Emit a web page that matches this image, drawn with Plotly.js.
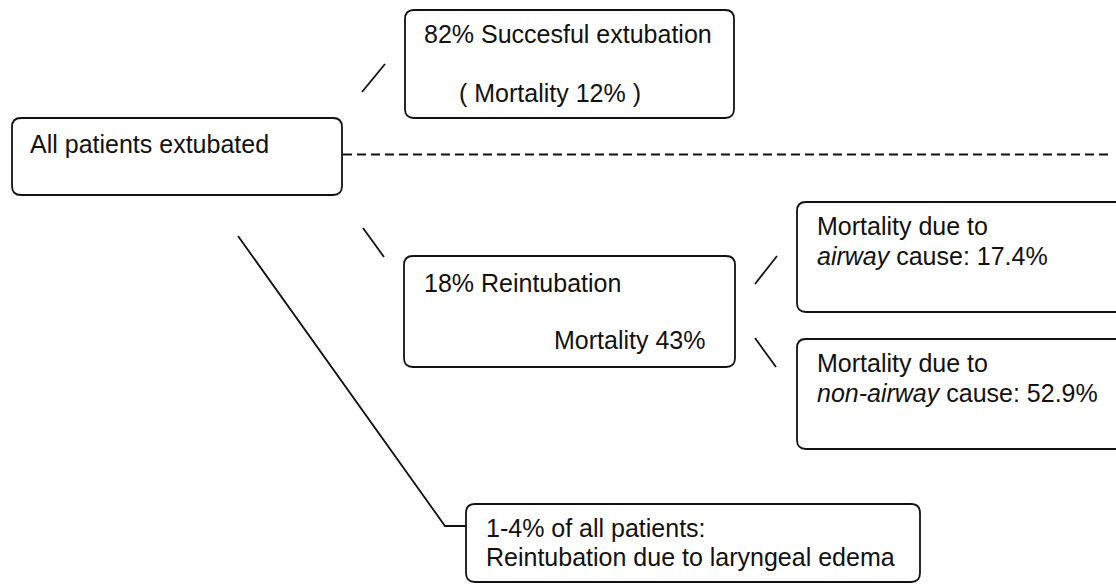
<!DOCTYPE html>
<html>
<head>
<meta charset="utf-8">
<script src="https://cdn.plot.ly/plotly-3.0.1.min.js"></script>
<style>html,body{margin:0;padding:0;background:#fff;}#chart{width:1116px;height:584px;}</style>
</head>
<body>
<div id="chart"></div>
<script>
// Flowchart nodes (boxes)
const nodeNames = ['All patients', 'Successful extubation', 'Reintubation', 'Airway cause', 'Non-airway cause', 'Laryngeal edema'];
const nodeX0 = [12, 405, 404, 797, 797, 466];
const nodeX1 = [342, 734, 735, 1140, 1140, 920];
const nodeY0 = [118, 10, 256, 202, 339, 504];
const nodeY1 = [195, 118, 367, 312, 449, 582];

// Text lines
const lineTexts = [
  'All patients extubated',
  '82% Succesful extubation',
  '( Mortality 12% )',
  '18% Reintubation',
  'Mortality 43%',
  'Mortality due to',
  '<i>airway</i> cause: 17.4%',
  'Mortality due to',
  '<i>non-airway</i> cause: 52.9%',
  '1-4% of all patients:',
  'Reintubation due to laryngeal edema'
];
const lineX = [29, 423, 458, 423, 553, 816, 816, 816, 816, 485, 485];
const lineBaseline = [153, 43, 102, 292, 349, 235, 265, 372, 402, 537, 566];

// Connector segments (solid)
const connX = [[362, 385], [363, 384], [755, 777], [755, 776], [238, 445, 466]];
const connY = [[92, 64], [228, 257], [284, 256], [338, 367], [236, 526, 526]];
// Dashed divider
const dashX = [343, 1108];
const dashY = [154.5, 154.5];

const R = 9;
function roundedRect(x0, y0, x1, y1, r) {
  return 'M' + (x0 + r) + ',' + y0 +
    ' L' + (x1 - r) + ',' + y0 +
    ' Q' + x1 + ',' + y0 + ' ' + x1 + ',' + (y0 + r) +
    ' L' + x1 + ',' + (y1 - r) +
    ' Q' + x1 + ',' + y1 + ' ' + (x1 - r) + ',' + y1 +
    ' L' + (x0 + r) + ',' + y1 +
    ' Q' + x0 + ',' + y1 + ' ' + x0 + ',' + (y1 - r) +
    ' L' + x0 + ',' + (y0 + r) +
    ' Q' + x0 + ',' + y0 + ' ' + (x0 + r) + ',' + y0 + ' Z';
}

const shapes = nodeNames.map((n, i) => ({
  type: 'path', xref: 'x', yref: 'y',
  path: roundedRect(nodeX0[i], nodeY0[i], nodeX1[i], nodeY1[i], R),
  line: {color: '#111', width: 1.8},
  fillcolor: 'rgba(0,0,0,0)'
}));

const FS = 25;
const annotations = lineTexts.map((t, i) => ({
  x: lineX[i], y: lineBaseline[i] - 0.35 * FS,
  xref: 'x', yref: 'y',
  text: t, showarrow: false,
  xanchor: 'left', yanchor: 'middle',
  align: 'left', borderpad: 0,
  font: {family: '"Liberation Sans", Arial, sans-serif', size: FS, color: '#111'}
}));

const sx = [], sy = [];
connX.forEach((seg, i) => {
  seg.forEach((v, j) => { sx.push(v); sy.push(connY[i][j]); });
  sx.push(null); sy.push(null);
});

const traces = [
  {x: sx, y: sy, mode: 'lines', type: 'scatter', line: {color: '#111', width: 1.8}, hoverinfo: 'skip', connectgaps: false},
  {x: dashX, y: dashY, mode: 'lines', type: 'scatter', line: {color: '#111', width: 2, dash: '9px,5px'}, hoverinfo: 'skip'}
];

const layout = {
  width: 1116, height: 584,
  margin: {l: 0, r: 0, t: 0, b: 0, pad: 0},
  paper_bgcolor: '#fff', plot_bgcolor: '#fff',
  showlegend: false,
  xaxis: {range: [0, 1116], visible: false, fixedrange: true},
  yaxis: {range: [584, 0], visible: false, fixedrange: true},
  shapes: shapes,
  annotations: annotations
};

Plotly.newPlot('chart', traces, layout, {staticPlot: true, displayModeBar: false});
</script>
</body>
</html>
